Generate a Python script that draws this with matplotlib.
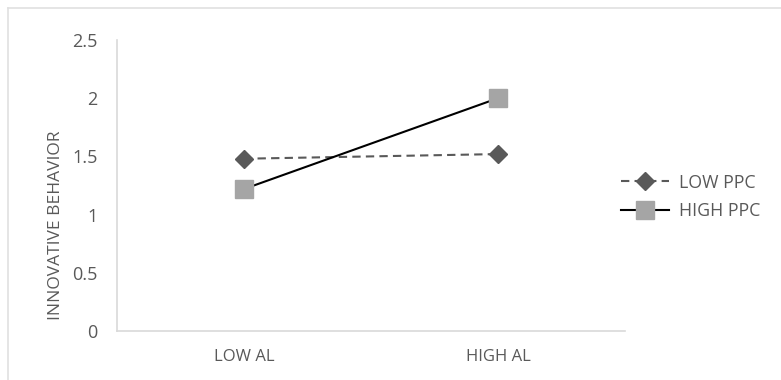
import matplotlib.pyplot as plt
from matplotlib.lines import Line2D

categories = ["LOW AL", "HIGH AL"]
low_ppc = [1.48, 1.52]
high_ppc = [1.22, 2.0]
series_names = ["LOW PPC", "HIGH PPC"]
y_ticks = [0, 0.5, 1, 1.5, 2, 2.5]
y_labels = ["0", "0.5", "1", "1.5", "2", "2.5"]

TEXT = "#595959"
GRID = "#d9d9d9"


def main():
    plt.rcParams["font.family"] = ["Open Sans", "DejaVu Sans"]
    fig = plt.figure(figsize=(7.81, 3.80), dpi=100)

    # outer chart border (only top and left edge visible in the crop)
    fig.add_artist(Line2D([8 / 781, 8 / 781], [0, 1 - 8 / 380],
                          transform=fig.transFigure, color="#e0e0e0", lw=1.2))
    fig.add_artist(Line2D([8 / 781, 1], [1 - 8 / 380, 1 - 8 / 380],
                          transform=fig.transFigure, color="#e0e0e0", lw=1.2))

    ax = fig.add_axes([117 / 781, 49 / 380, 508 / 781, 291 / 380])
    x = list(range(len(categories)))

    ax.plot(x, low_ppc, color="#595959", ls=(0, (4, 2.5)), lw=1.5,
            marker="D", markersize=9, markerfacecolor="#595959",
            markeredgecolor="#595959", label=series_names[0])
    ax.plot(x, high_ppc, color="#000000", ls="-", lw=1.5,
            marker="s", markersize=12.5, markerfacecolor="#a5a5a5",
            markeredgecolor="#a5a5a5", label=series_names[1])

    ax.set_xlim(-0.5, 1.5)
    ax.set_ylim(0, 2.5)
    ax.set_xticks(x)
    ax.set_xticklabels(categories)
    ax.set_yticks(y_ticks)
    ax.set_yticklabels(y_labels)
    ax.tick_params(axis="both", length=0, colors=TEXT, labelsize=13)
    ax.tick_params(axis="y", pad=14)
    ax.tick_params(axis="x", pad=13)
    for lbl in ax.get_xticklabels():
        lbl.set_fontsize(12)

    for s in ["top", "right"]:
        ax.spines[s].set_visible(False)
    for s in ["left", "bottom"]:
        ax.spines[s].set_color(GRID)
        ax.spines[s].set_linewidth(1.2)

    ax.set_ylabel("INNOVATIVE BEHAVIOR", color=TEXT, fontsize=12.5)
    ax.yaxis.set_label_coords(-0.105, 0.364)

    fig.legend(*ax.get_legend_handles_labels(), loc="center left",
               bbox_to_anchor=(621 / 781, 0.482), frameon=False,
               borderpad=0, borderaxespad=0,
               fontsize=12.8, labelcolor=TEXT, handlelength=2.7,
               labelspacing=0.6, handletextpad=0.55)

    fig.savefig("out.png", dpi=100, facecolor="white")


if __name__ == "__main__":
    main()
